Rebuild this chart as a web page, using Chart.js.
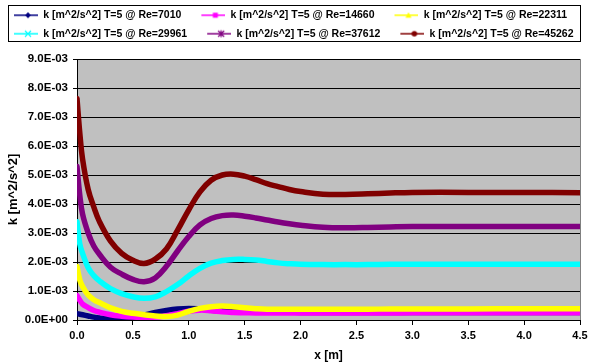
<!DOCTYPE html>
<html>
<head>
<meta charset="utf-8">
<script src="https://cdn.jsdelivr.net/npm/chart.js@4/dist/chart.umd.min.js"></script>
<style>
  html, body { margin: 0; padding: 0; background: #ffffff; }
  canvas { display: block; }
</style>
</head>
<body>
<canvas id="chart" width="589" height="363"></canvas>
<script>
// Streamwise positions x [m]
const xPositions = [0, 0.025, 0.05, 0.1, 0.15, 0.2, 0.3, 0.4, 0.5, 0.6, 0.7, 0.8, 0.9, 1.0, 1.1, 1.2,
  1.3, 1.4, 1.5, 1.6, 1.7, 1.8, 1.9, 2.0, 2.2, 2.4, 2.6, 2.8, 3.0, 3.5, 4.0, 4.5];

// Turbulent kinetic energy k at T=5, in units of 1e-3 m^2/s^2
const kRe7010 = [0.22, 0.2, 0.18, 0.14, 0.1, 0.07, 0.03, 0.03, 0.08, 0.17, 0.26, 0.33, 0.38, 0.4, 0.38, 0.34,
  0.31, 0.29, 0.28, 0.27, 0.27, 0.27, 0.27, 0.26, 0.26, 0.26, 0.26, 0.26, 0.26, 0.26, 0.26, 0.26];
const kRe14660 = [0.84, 0.68, 0.55, 0.43, 0.33, 0.27, 0.18, 0.13, 0.1, 0.09, 0.1, 0.15, 0.22, 0.3, 0.34, 0.32,
  0.28, 0.26, 0.25, 0.24, 0.24, 0.24, 0.24, 0.24, 0.24, 0.24, 0.24, 0.24, 0.25, 0.25, 0.25, 0.25];
const kRe22311 = [1.84, 1.38, 1.15, 0.86, 0.7, 0.6, 0.42, 0.3, 0.23, 0.18, 0.14, 0.12, 0.17, 0.3, 0.4, 0.46,
  0.48, 0.46, 0.42, 0.39, 0.37, 0.37, 0.37, 0.37, 0.37, 0.37, 0.37, 0.38, 0.38, 0.38, 0.39, 0.39];
const kRe29961 = [3.39, 2.62, 2.3, 1.8, 1.53, 1.35, 1.08, 0.91, 0.8, 0.75, 0.8, 0.98, 1.22, 1.52, 1.78, 1.96,
  2.05, 2.09, 2.09, 2.07, 2.02, 1.97, 1.94, 1.92, 1.91, 1.91, 1.91, 1.92, 1.92, 1.92, 1.92, 1.92];
const kRe37612 = [5.29, 4.3, 3.65, 3.0, 2.55, 2.27, 1.82, 1.58, 1.4, 1.32, 1.45, 1.85, 2.38, 2.88, 3.28, 3.5,
  3.6, 3.62, 3.58, 3.52, 3.45, 3.38, 3.32, 3.27, 3.2, 3.18, 3.19, 3.21, 3.22, 3.22, 3.22, 3.22];
const kRe45262 = [7.64, 6.45, 5.55, 4.5, 3.9, 3.4, 2.72, 2.3, 2.06, 1.95, 2.1, 2.45, 3.1, 3.8, 4.42, 4.82,
  5.0, 5.03, 4.96, 4.84, 4.7, 4.6, 4.5, 4.43, 4.34, 4.33, 4.35, 4.38, 4.4, 4.4, 4.4, 4.39];

const reynoldsNumbers = [7010, 14660, 22311, 29961, 37612, 45262];
const seriesValues = [kRe7010, kRe14660, kRe22311, kRe29961, kRe37612, kRe45262];
const seriesColors = ['#000080', '#FF00FF', '#FFFF00', '#00FFFF', '#800080', '#800000'];
const markerShapes = ['diamond', 'square', 'triangle', 'cross', 'star', 'circle'];

const xTickValues = [0, 0.5, 1.0, 1.5, 2.0, 2.5, 3.0, 3.5, 4.0, 4.5];
const yTickValues = [0, 1, 2, 3, 4, 5, 6, 7, 8, 9];

const FONT = "Arial, 'Liberation Sans', sans-serif";

// "1.0E-03" style labels for the k axis (values stored in 1e-3 units)
function formatK(v) {
  const s = (v * 1e-3).toExponential(1);
  const [mant, exp] = s.split('e');
  const n = parseInt(exp, 10);
  const sign = n < 0 ? '-' : '+';
  return mant + 'E' + sign + String(Math.abs(n)).padStart(2, '0');
}

// Line-with-marker swatch for each legend entry (line on the right 24 px)
function legendIcon(color, shape) {
  const c = document.createElement('canvas');
  c.width = 36; c.height = 10;
  const g = c.getContext('2d');
  g.strokeStyle = color; g.fillStyle = color; g.lineWidth = 1.5;
  g.beginPath(); g.moveTo(12, 5); g.lineTo(36, 5); g.stroke();
  const cx = 26, cy = 5, r = 3;
  g.beginPath();
  if (shape === 'diamond') {
    g.moveTo(cx, cy - r); g.lineTo(cx + r, cy); g.lineTo(cx, cy + r); g.lineTo(cx - r, cy); g.closePath(); g.fill();
  } else if (shape === 'square') {
    g.fillRect(cx - 2.5, cy - 2.5, 5, 5);
  } else if (shape === 'triangle') {
    g.moveTo(cx, cy - 3); g.lineTo(cx + 3, cy + 2.5); g.lineTo(cx - 3, cy + 2.5); g.closePath(); g.fill();
  } else if (shape === 'cross') {
    g.lineWidth = 1.2;
    g.moveTo(cx - 3, cy - 3); g.lineTo(cx + 3, cy + 3); g.moveTo(cx + 3, cy - 3); g.lineTo(cx - 3, cy + 3); g.stroke();
  } else if (shape === 'star') {
    g.lineWidth = 1.2;
    g.moveTo(cx - 3, cy - 3); g.lineTo(cx + 3, cy + 3); g.moveTo(cx + 3, cy - 3); g.lineTo(cx - 3, cy + 3);
    g.moveTo(cx, cy - 3.5); g.lineTo(cx, cy + 3.5); g.stroke();
  } else {
    g.arc(cx, cy, 2.8, 0, Math.PI * 2); g.fill();
  }
  return c;
}
const legendIcons = seriesColors.map((c, i) => legendIcon(c, markerShapes[i]));

// Leaves a gap between the legend block and the plot area
const legendGap = {
  id: 'legendGap',
  beforeLayout(chart) {
    const lg = chart.legend;
    if (lg && !lg._gapAdded) {
      const fit = lg.fit;
      lg.fit = function () { fit.call(this); this.height += 10; };
      lg._gapAdded = true;
    }
  }
};

// Grey plot background, plot frame and legend border
const plotFrame = {
  id: 'plotFrame',
  beforeDraw(chart) {
    const { ctx, chartArea: a } = chart;
    ctx.save();
    ctx.fillStyle = '#C0C0C0';
    ctx.fillRect(a.left, a.top, a.right - a.left, a.bottom - a.top);
    ctx.restore();
  },
  afterDraw(chart) {
    const { ctx, chartArea: a } = chart;
    ctx.save();
    ctx.strokeStyle = '#808080';
    ctx.lineWidth = 1;
    ctx.beginPath();
    ctx.moveTo(Math.round(a.right) + 0.5, a.top);
    ctx.lineTo(Math.round(a.right) + 0.5, a.bottom);
    ctx.stroke();
    const boxes = chart.legend.legendHitBoxes;
    if (boxes && boxes.length) {
      const left = Math.min(...boxes.map(b => b.left)) + 6;
      const right = Math.max(...boxes.map(b => b.left + b.width)) + 7;
      const top = Math.min(...boxes.map(b => b.top)) - 5;
      const bottom = Math.max(...boxes.map(b => b.top + b.height)) + 2;
      ctx.strokeStyle = '#000000';
      ctx.strokeRect(Math.round(left) + 0.5, Math.round(top) + 0.5,
        Math.round(right - left), Math.round(bottom - top));
    }
    ctx.restore();
  }
};

const datasets = seriesValues.map((vals, i) => ({
  label: 'k [m^2/s^2] T=5 @ Re=' + reynoldsNumbers[i],
  data: xPositions.map((x, j) => ({ x: x, y: vals[j] })),
  borderColor: seriesColors[i],
  backgroundColor: seriesColors[i],
  borderWidth: 5.5,
  borderCapStyle: 'round',
  borderJoinStyle: 'round',
  pointRadius: 0,
  pointHoverRadius: 0,
  fill: false,
  tension: 0.4,
  order: seriesValues.length - 1 - i
}));

new Chart(document.getElementById('chart'), {
  type: 'line',
  data: { datasets },
  plugins: [legendGap, plotFrame],
  options: {
    responsive: false,
    animation: false,
    events: [],
    layout: { padding: { top: 2, left: -6, right: 0, bottom: 0 } },
    plugins: {
      tooltip: { enabled: false },
      legend: {
        display: true,
        position: 'top',
        align: 'start',
        labels: {
          usePointStyle: true,
          pointStyleWidth: 36,
          boxHeight: 10,
          padding: 8,
          color: '#000000',
          font: { family: FONT, size: 10.5, weight: 'bold' },
          generateLabels: (chart) => chart.data.datasets.map((ds, i) => ({
            text: ds.label,
            pointStyle: legendIcons[i],
            fillStyle: ds.borderColor,
            strokeStyle: ds.borderColor,
            lineWidth: 0,
            hidden: false,
            datasetIndex: i
          }))
        }
      }
    },
    scales: {
      x: {
        type: 'linear',
        min: 0,
        max: 4.5,
        afterBuildTicks: (s) => { s.ticks = xTickValues.map(v => ({ value: v })); },
        ticks: {
          callback: (v) => Number(v).toFixed(1),
          color: '#000000',
          font: { family: FONT, size: 11, weight: 'bold' },
          padding: 4,
          maxRotation: 0,
          autoSkip: false
        },
        grid: { drawOnChartArea: false, drawTicks: true, tickLength: 5, color: '#000000' },
        border: { color: '#000000', width: 1 },
        title: {
          display: true,
          text: 'x [m]',
          color: '#000000',
          font: { family: FONT, size: 12, weight: 'bold' },
          padding: { top: 2, bottom: 0 }
        },
        afterFit: (s) => { s.height = 43; s.paddingRight = 9; }
      },
      y: {
        type: 'linear',
        min: 0,
        max: 9,
        afterBuildTicks: (s) => { s.ticks = yTickValues.map(v => ({ value: v })); },
        ticks: {
          callback: (v) => formatK(v),
          color: '#000000',
          font: { family: FONT, size: 11.5, weight: 'bold' },
          padding: 5
        },
        grid: { color: '#000000', lineWidth: 1, drawTicks: true, tickLength: 4 },
        border: { color: '#000000', width: 1 },
        title: {
          display: true,
          text: 'k [m^2/s^2]',
          color: '#000000',
          font: { family: FONT, size: 13, weight: 'bold' },
          padding: { top: 12, bottom: 0 }
        },
        afterFit: (s) => { s.width = 83; }
      }
    }
  }
});
</script>
</body>
</html>
